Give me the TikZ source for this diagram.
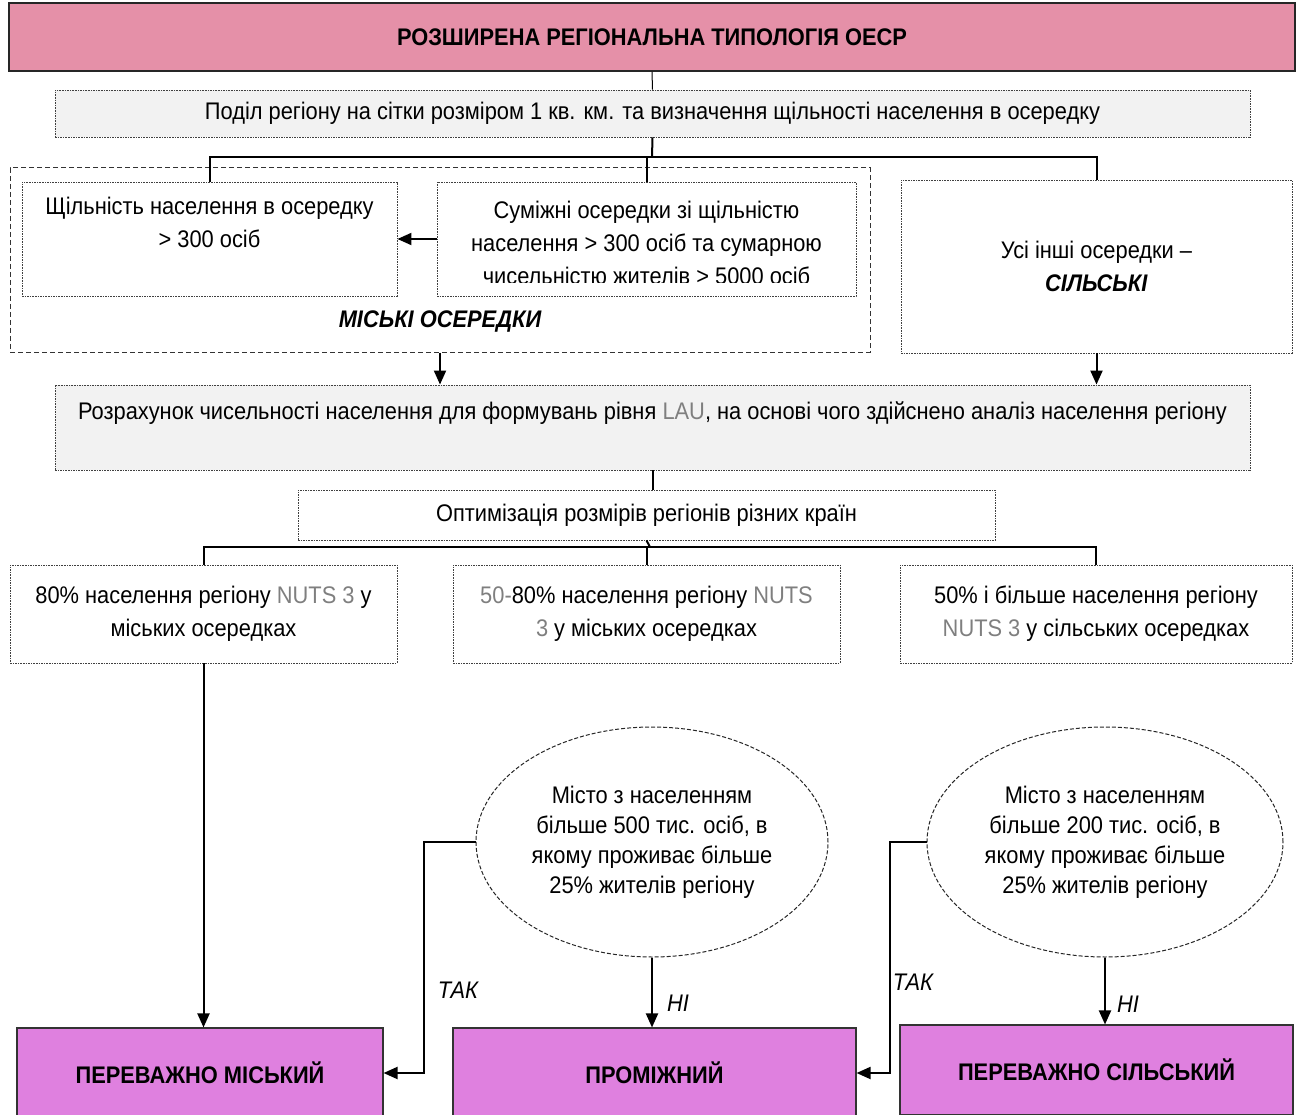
\documentclass[tikz,border=0pt]{standalone}
\usepackage{fontspec}
\setmainfont{Liberation Sans}[FakeStretch=0.91]
\usetikzlibrary{arrows.meta,shapes.geometric}
\definecolor{titlepink}{HTML}{E590A8}
\definecolor{boxviolet}{HTML}{DF80DF}
\definecolor{grayfill}{HTML}{F2F2F2}
\definecolor{lightgraytxt}{HTML}{7F7F7F}
\newcommand{\gt}[1]{\textcolor{lightgraytxt}{#1}}
\begin{document}
\begin{tikzpicture}[x=1pt,y=-1pt,
  every node/.style={font=\fontsize{24}{33}\selectfont, align=center, inner sep=0pt},
  titlebox/.style={draw=black!85, line width=1.4pt, fill=titlepink, rectangle, font=\fontsize{24}{33}\selectfont\bfseries},
  dotbox/.style={draw=black!75, line width=0.9pt, dash pattern=on 1.6pt off 1pt, rectangle},
  grayb/.style={dotbox, fill=grayfill},
  outerbox/.style={draw=black!80, line width=1pt, dash pattern=on 5pt off 3pt, rectangle},
  ellbox/.style={draw=black!85, line width=1pt, dash pattern=on 4pt off 2pt, ellipse, font=\fontsize{24}{30}\selectfont},
  resbox/.style={draw=black!80, line width=1.1pt, fill=boxviolet, rectangle, font=\fontsize{24}{33}\selectfont\bfseries},
  conn/.style={line width=2pt},
  thinconn/.style={line width=1pt},
  arr/.style={conn, -{Triangle[length=14pt,width=12pt]}},
  lbl/.style={font=\fontsize{24}{28}\selectfont\itshape}
]
\useasboundingbox (0,0) rectangle (1296,1115);

% title and first step
\node[titlebox, minimum width=1286pt, minimum height=68pt] (title) at (652,37) {РОЗШИРЕНА РЕГІОНАЛЬНА ТИПОЛОГІЯ ОЕСР};
\node[grayb, minimum width=1195pt, minimum height=47pt] (split) at (652.5,113.5) {Поділ регіону на сітки розміром 1 кв. км. та визначення щільності населення в осередку};

% urban cells group
\node[outerbox, minimum width=860pt, minimum height=184pt] (urban) at (440,260) {};
\node[dotbox, minimum width=375pt, minimum height=114pt] (b1) at (209.5,239) {Щільність населення в осередку\\ > 300 осіб\\ \mbox{}};
\begin{scope}
  \clip (437,182) rectangle (856,283);
  \node (b2txt) at (646.5,243) {Суміжні осередки зі щільністю\\ населення > 300 осіб та сумарною\\ чисельністю жителів > 5000 осіб};
\end{scope}
\node[dotbox, minimum width=419pt, minimum height=114pt] (b2) at (646.5,239) {};
\node[font=\fontsize{24}{33}\selectfont\bfseries\itshape] (urbanlbl) at (440,322) {МІСЬКІ ОСЕРЕДКИ};
\node[dotbox, minimum width=391pt, minimum height=173pt] (b3) at (1096.5,266.5) {Усі інші осередки –\\ \textbf{\textit{СІЛЬСЬКІ}}};

% LAU and optimisation
\node[grayb, minimum width=1195pt, minimum height=85pt] (lau) at (652.5,427.5) {Розрахунок чисельності населення для формувань рівня \gt{LAU}, на основі чого здійснено аналіз населення регіону\\ \mbox{}};
\node[dotbox, minimum width=697pt, minimum height=50pt] (opt) at (646.5,515) {Оптимізація розмірів регіонів різних країн};

% NUTS shares
\node[dotbox, minimum width=387pt, minimum height=98pt] (nA) at (203.5,614) {80\% населення регіону \gt{NUTS 3} у\\ міських осередках};
\node[dotbox, minimum width=387pt, minimum height=98pt] (nB) at (646.5,614) {\gt{50-}80\% населення регіону \gt{NUTS}\\ \gt{3} у міських осередках};
\node[dotbox, minimum width=392pt, minimum height=98pt] (nC) at (1096,614) {50\% і більше населення регіону\\ \gt{NUTS 3} у сільських осередках};

% decision ellipses
\node[ellbox, minimum width=352pt, minimum height=230pt] (e1) at (652,842) {Місто з населенням\\ більше 500 тис. осіб, в\\ якому проживає більше\\ 25\% жителів регіону};
\node[ellbox, minimum width=356pt, minimum height=230pt] (e2) at (1105,842) {Місто з населенням\\ більше 200 тис. осіб, в\\ якому проживає більше\\ 25\% жителів регіону};

% results
\node[resbox, minimum width=366pt, minimum height=90pt] (r1) at (200,1073) {ПЕРЕВАЖНО МІСЬКИЙ};
\node[resbox, minimum width=403pt, minimum height=90pt] (r2) at (654.5,1073) {ПРОМІЖНИЙ};
\node[resbox, minimum width=393pt, minimum height=90pt] (r3) at (1096.5,1070) {ПЕРЕВАЖНО СІЛЬСЬКИЙ};

% connectors
\coordinate (bus1) at (652,157);
\coordinate (bus2) at (650,547);
\draw[thinconn] (title.south) -- (split.north);
\draw[conn] (split.south) -- (bus1);
\draw[conn] (b1.north) |- (bus1) -| (b3.north);
\draw[conn] (b2.north) -- (b2.north |- bus1);
\draw[arr] (b2.west) -- (b1.east);
\draw[arr] (urban.south) -- (urban.south |- lau.north);
\draw[arr] (b3.south) -- (b3.south |- lau.north);
\draw[conn] (lau.south) -- (lau.south |- opt.north);
\draw[conn] (opt.south) -- (bus2);
\draw[conn] (nA.north) |- (bus2) -| (nC.north);
\draw[conn] (nB.north) -- (nB.north |- bus2);
\draw[arr] (nA.south) -- (nA.south |- r1.north);
\draw[arr] (e1.west) -- ++(-52,0) |- (r1.east);
\draw[arr] (e1.south) -- (e1.south |- r2.north);
\draw[arr] (e2.west) -- ++(-37,0) |- (r2.east);
\draw[arr] (e2.south) -- (e2.south |- r3.north);

% labels
\node[lbl] (tak1) at (458,990) {ТАК};
\node[lbl] (ni1) at (678,1003) {НІ};
\node[lbl] (tak2) at (913,982) {ТАК};
\node[lbl] (ni2) at (1128,1004) {НІ};
\end{tikzpicture}
\end{document}
